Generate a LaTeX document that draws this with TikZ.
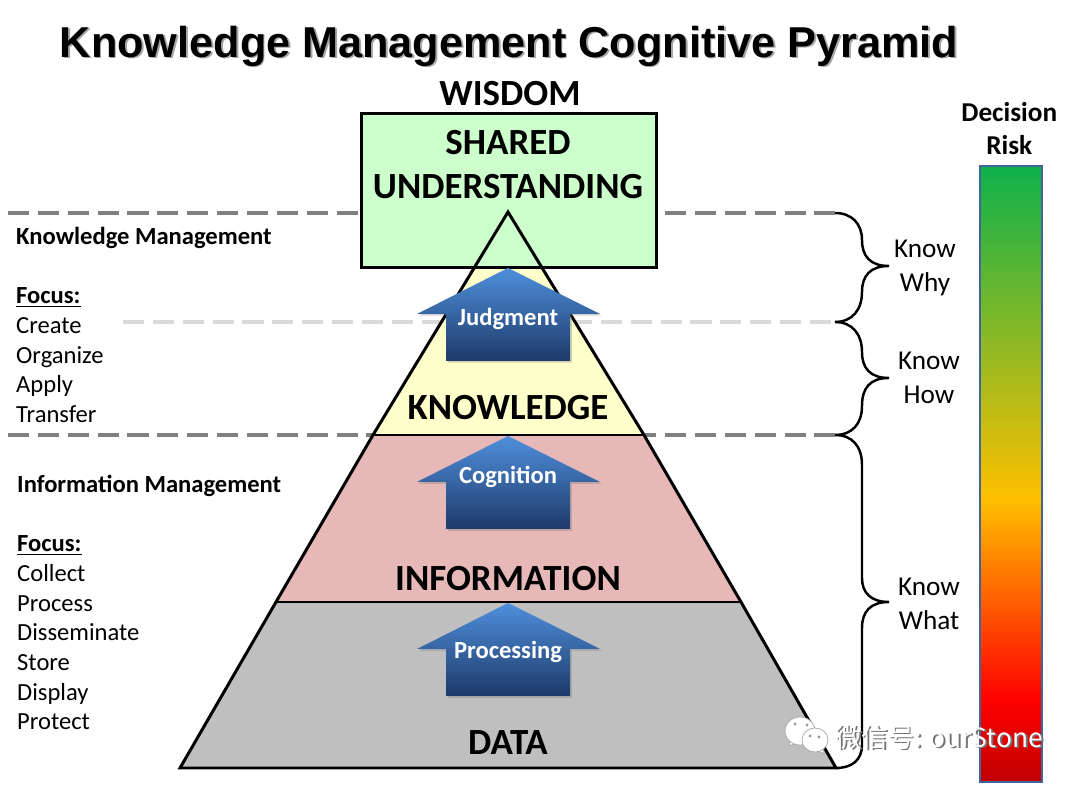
\documentclass[tikz,border=0pt]{standalone}
\usepackage{fontspec}
\setmainfont{Carlito}
\newfontfamily\titlefont{Liberation Sans}
\newfontfamily\cjkfont{Noto Sans CJK SC}
\usetikzlibrary{positioning, shadows}

\definecolor{sharedgreen}{HTML}{CCFFCC}
\definecolor{knowledgeyellow}{HTML}{FFFFCC}
\definecolor{infopink}{HTML}{E6B8B7}
\definecolor{datagray}{HTML}{BFBFBF}
\definecolor{dashgray}{HTML}{808080}
\definecolor{dashlight}{HTML}{D9D9D9}
\definecolor{barblue}{HTML}{41659A}
\definecolor{arrowtop}{HTML}{4F8FDC}
\definecolor{arrowbottom}{HTML}{1E3A68}
\definecolor{riskgreen}{HTML}{0DB14B}
\definecolor{riskamber}{HTML}{FFC000}
\definecolor{riskred}{HTML}{FF0000}
\definecolor{riskdark}{HTML}{C00000}

\pgfdeclareverticalshading{riskshade}{100bp}{
	color(0bp)=(riskdark);
	color(25bp)=(riskdark);
	color(31.6bp)=(riskred);
	color(48bp)=(riskamber);
	color(75bp)=(riskgreen);
	color(100bp)=(riskgreen)}

\newcommand{\softshadow}[2]{\rlap{\kern1pt\raisebox{-1pt}{\textcolor{#1}{#2}}}#2}

\begin{document}
\begin{tikzpicture}[
	x=0.02cm, y=-0.02cm,
	level/.style={font=\fontsize{21}{25}\selectfont\bfseries},
	know/.style={font=\fontsize{15.5}{19}\selectfont, align=center},
	focus/.style={anchor=north west, align=left, font=\fontsize{14}{16.9}\selectfont},
	layer/.style={draw=black, line width=1.7pt, line join=miter},
	knowline/.style={dashgray, line width=2.2pt, dash pattern=on 12pt off 5pt},
	curly/.style={draw=black, line width=1.4pt},
	upblock/.style={top color=arrowtop, bottom color=arrowbottom, drop shadow={shadow xshift=1pt, shadow yshift=-1pt, opacity=0.35}},
	blocklabel/.style={text=white, font=\fontsize{14}{16}\selectfont\bfseries},
	bubble/.style={fill=white, draw=black!35, line width=0.4pt}
]
\useasboundingbox (0,0) rectangle (1080,786);
\fill[white] (0,0) rectangle (1080,786);

% Dashed levels
\draw[knowline] (8,213) -- (835,213);
\draw[knowline, dashlight] (123,322) -- (835,322);
\draw[knowline] (8,435) -- (835,435);

% Pyramid layers
\fill[knowledgeyellow] (508,212) -- (644,435) -- (373,435) -- cycle;
\fill[infopink] (373,435) -- (644,435) -- (741,602) -- (276,602) -- cycle;
\fill[datagray] (276,602) -- (741,602) -- (836,768) -- (180,768) -- cycle;
\node[draw=black, line width=1.7pt, fill=sharedgreen, minimum width=5.9cm, minimum height=3.1cm, inner sep=0pt] (sharedbox) at (509,190.5) {};
\draw[layer] (508,212) -- (644,435) -- (741,602) -- (836,768) -- (180,768) -- (276,602) -- (373,435) -- cycle;
\draw[black, line width=1.2pt] (373,435) -- (644,435);
\draw[black, line width=1.2pt] (276,602) -- (741,602);

% Level names
\node[level] (wisdom) at (510,94) {WISDOM};
\node[level, align=center] (shared) at (508,165) {SHARED\\UNDERSTANDING};
\node[level] (knowledge) at (508,408) {KNOWLEDGE};
\node[level] (information) at (508,579) {INFORMATION};
\node[level] (data) at (508,743) {DATA};

% Arrows between the layers
\foreach \tip/\name/\word/\shift in {268/judgment/Judgment/51, 436/cognition/Cognition/41, 603/processing/Processing/49}{
	\shade[upblock] (508,\tip) -- (600,\tip+46) -- (570,\tip+46) -- (570,\tip+93) -- (446,\tip+93) -- (446,\tip+46) -- (417,\tip+46) -- cycle;
	\node[blocklabel] (\name) at (508,\tip+\shift) {\word};
}

% Braces
\coordinate (whytop) at (835,213);
\coordinate (howtop) at (835,322);
\coordinate (whattop) at (835,435);
\coordinate (whatend) at (836,768);
\draw[curly] (whytop) .. controls (852,213) and (862,224) .. (862,240) .. controls (862,256) and (870,266) .. (889,266) .. controls (870,266) and (862,276) .. (862,292) .. controls (862,310) and (852,322) .. (howtop);
\draw[curly] (howtop) .. controls (852,322) and (862,334) .. (862,352) .. controls (862,368) and (870,378) .. (889,378) .. controls (870,378) and (862,388) .. (862,406) .. controls (862,424) and (852,435) .. (whattop);
\draw[curly] (whattop) .. controls (852,435) and (862,446) .. (862,465) -- (862,578) .. controls (862,592) and (870,602) .. (889,602) .. controls (870,602) and (862,612) .. (862,628) -- (862,745) .. controls (862,760) and (852,768) .. (whatend);
\node[know] (knowwhy) at (925,268) {Know\\Why};
\node[know] (knowhow) at (929,378) {Know\\How};
\node[know] (knowwhat) at (929,604) {Know\\What};

% Left hand text
\node[focus] (kmtext) at (10,221) {\textbf{Knowledge Management}\\[16.8pt]\textbf{\underline{Focus:}}\\Create\\Organize\\Apply\\Transfer};
\node[focus] (imtext) at (11,469) {\textbf{Information Management}\\[16.8pt]\textbf{\underline{Focus:}}\\Collect\\Process\\Disseminate\\Store\\Display\\Protect};

% Risk bar
\node[draw=barblue, line width=1.2pt, shading=riskshade, minimum width=1.24cm, minimum height=12.32cm, inner sep=0pt] (riskbar) at (1011,474) {};
\node[above=0.08cm of riskbar, xshift=-1pt, align=center, font=\fontsize{15.5}{19}\selectfont\bfseries] (decisionrisk) {Decision\\Risk};

% Title
\node[font=\fontsize{24.6}{30}\selectfont\titlefont\bfseries] (title) at (509,47) {\softshadow{black!35}{Knowledge Management Cognitive Pyramid}};

% Mark in the corner
\draw[bubble] (789,746) -- (791,738) -- (797,743) -- cycle;
\draw[bubble] (800,731) ellipse [x radius=15, y radius=14];
\draw[bubble] (824,754) -- (817,750) -- (823,746) -- cycle;
\draw[bubble] (815,740) ellipse [x radius=13, y radius=12];
\foreach \ex/\ey in {795/724, 807/725, 810/736, 819/737}
	\fill[black!40] (\ex,\ey) circle [radius=1.6];
\node[anchor=west, inner sep=0pt, font=\fontsize{15}{18}\selectfont, text=white] (mark) at (835,738) {\softshadow{black!55}{\cjkfont 微信号: ourStone}};
\end{tikzpicture}
\end{document}
